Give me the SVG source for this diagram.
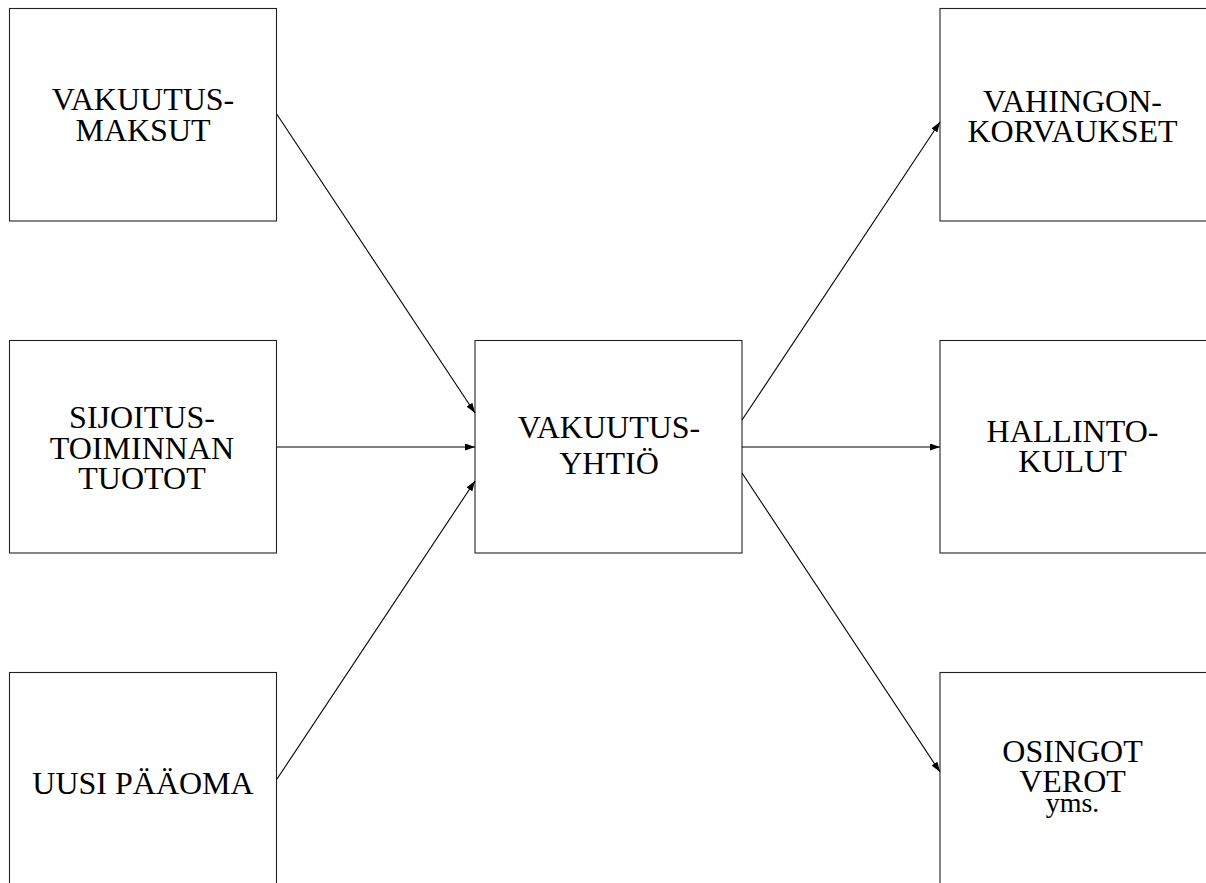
<svg xmlns="http://www.w3.org/2000/svg" width="1206" height="883" viewBox="0 0 1206 883">
  <style>
    .box { fill: #ffffff; stroke: #222222; stroke-width: 1.1; }
    .lbl { font-family: 'Liberation Serif', 'DejaVu Serif', serif; font-size: 32px; fill: #000000; text-anchor: middle; }
    .small { font-size: 28px; }
    .conn { stroke: #000000; stroke-width: 1.1; fill: none; marker-end: url(#arr); }
  </style>
  <defs>
    <marker id="arr" markerUnits="userSpaceOnUse" markerWidth="11" markerHeight="8" refX="10" refY="3.5" orient="auto">
      <path d="M0,0 L10,3.5 L0,7 Z" fill="#000000"/>
    </marker>
  </defs>
  <rect x="0" y="0" width="1206" height="883" fill="#ffffff"/>

  <g id="node-vakuutusmaksut">
    <rect class="box" x="9.5" y="8.5" width="267" height="212.5"/>
    <text class="lbl" x="143" y="110">VAKUUTUS-</text>
    <text class="lbl" x="143" y="140.5">MAKSUT</text>
  </g>
  <g id="node-sijoitustoiminnan">
    <rect class="box" x="9.5" y="340.5" width="267" height="212.5"/>
    <text class="lbl" x="142" y="428.3">SIJOITUS-</text>
    <text class="lbl" x="142" y="459.3">TOIMINNAN</text>
    <text class="lbl" x="142" y="489.3">TUOTOT</text>
  </g>
  <g id="node-uusipaaoma">
    <rect class="box" x="9.5" y="672.5" width="267" height="212.5"/>
    <text class="lbl" x="143" y="794">UUSI PÄÄOMA</text>
  </g>
  <g id="node-vakuutusyhtio">
    <rect class="box" x="475" y="340.5" width="267" height="212.5"/>
    <text class="lbl" x="609" y="438.3">VAKUUTUS-</text>
    <text class="lbl" x="609" y="474.3">YHTIÖ</text>
  </g>
  <g id="node-vahingonkorvaukset">
    <rect class="box" x="940" y="8.5" width="267" height="212.5"/>
    <text class="lbl" x="1072.5" y="111.7">VAHINGON-</text>
    <text class="lbl" x="1072.5" y="142.3">KORVAUKSET</text>
  </g>
  <g id="node-hallintokulut">
    <rect class="box" x="940" y="340.5" width="267" height="212.5"/>
    <text class="lbl" x="1072.5" y="442.3">HALLINTO-</text>
    <text class="lbl" x="1072.5" y="472.3">KULUT</text>
  </g>
  <g id="node-osingot">
    <rect class="box" x="940" y="672.5" width="267" height="212.5"/>
    <text class="lbl" x="1072.5" y="761.7">OSINGOT</text>
    <text class="lbl" x="1072.5" y="791.7">VEROT</text>
    <text class="lbl small" x="1072.5" y="811.7">yms.</text>
  </g>

  <g id="connectors">
    <line class="conn" x1="277" y1="114.5" x2="475" y2="413"/>
    <line class="conn" x1="277" y1="447" x2="475" y2="447"/>
    <line class="conn" x1="277" y1="779" x2="475" y2="481"/>
    <line class="conn" x1="742" y1="420" x2="940" y2="122"/>
    <line class="conn" x1="742" y1="447" x2="940" y2="447"/>
    <line class="conn" x1="742" y1="473" x2="940" y2="772"/>
  </g>
</svg>
